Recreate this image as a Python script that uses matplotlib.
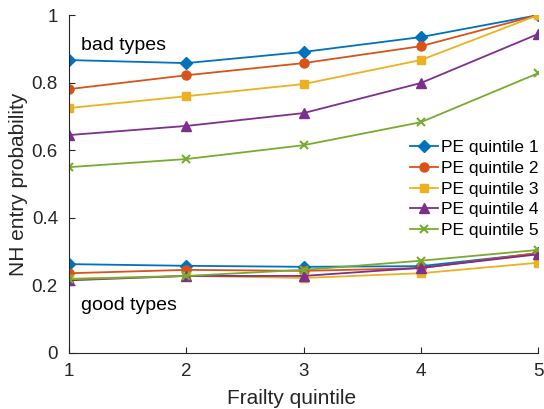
import matplotlib
matplotlib.use("Agg")
from matplotlib import pyplot as plt

plt.rcParams['font.family'] = ['Liberation Sans', 'DejaVu Sans']

frailty = [1, 2, 3, 4, 5]
labels = ['PE quintile 1', 'PE quintile 2', 'PE quintile 3', 'PE quintile 4', 'PE quintile 5']

bad_q1 = [0.867, 0.858, 0.891, 0.935, 1.0]
bad_q2 = [0.781, 0.822, 0.858, 0.908, 1.0]
bad_q3 = [0.725, 0.760, 0.796, 0.867, 1.0]
bad_q4 = [0.645, 0.672, 0.710, 0.799, 0.944]
bad_q5 = [0.550, 0.574, 0.615, 0.683, 0.828]

good_q1 = [0.263, 0.258, 0.255, 0.257, 0.295]
good_q2 = [0.236, 0.246, 0.243, 0.251, 0.296]
good_q3 = [0.220, 0.228, 0.222, 0.236, 0.267]
good_q4 = [0.215, 0.228, 0.228, 0.252, 0.292]
good_q5 = [0.218, 0.228, 0.246, 0.273, 0.305]

cols = ['#0072BD', '#D95319', '#EDB120', '#7E2F8E', '#77AC30']
marks = ['D', 'o', 's', '^', 'x']
msz = [6, 6.5, 5.5, 7, 6]

bad = [bad_q1, bad_q2, bad_q3, bad_q4, bad_q5]
good = [good_q1, good_q2, good_q3, good_q4, good_q5]

fig = plt.figure(figsize=(5.44, 4.09), dpi=100)
ax = fig.add_axes([0.127, 0.137, 0.862, 0.826])

for i in range(5):
    ax.plot(frailty, bad[i], color=cols[i], marker=marks[i], ms=msz[i], lw=1.3,
            mew=1.5 if marks[i] == 'x' else 1, label=labels[i])
for i in range(5):
    ax.plot(frailty, good[i], color=cols[i], marker=marks[i], ms=msz[i], lw=1.3,
            mew=1.5 if marks[i] == 'x' else 1)

ax.set_xlim(1, 5)
ax.set_ylim(0, 1)
ax.set_xticks([1, 2, 3, 4, 5])
ax.set_yticks([0, 0.2, 0.4, 0.6, 0.8, 1])
ax.set_yticklabels(['0', '0.2', '0.4', '0.6', '0.8', '1'])
ax.tick_params(direction='in', labelsize=13.5, length=4, colors='#262626')
ax.tick_params(axis='x', pad=7)
ax.tick_params(axis='y', pad=8)
ax.spines['top'].set_visible(False)
ax.spines['right'].set_visible(False)
for s in ['left', 'bottom']:
    ax.spines[s].set_color('#262626')
ax.set_xlabel('Frailty quintile', fontsize=15, color='#262626', labelpad=7)
ax.xaxis.label.set_x(0.475)
ax.set_ylabel('NH entry probability', fontsize=15, color='#262626', labelpad=3)

ax.text(1.10, 0.896, 'bad types', fontsize=14, va='baseline')
ax.text(1.10, 0.127, 'good types', fontsize=14, va='baseline')

ax.legend(loc='center right', bbox_to_anchor=(1.035, 0.485), frameon=False,
          fontsize=12.5, handlelength=1.6, handletextpad=0.2, labelspacing=0.32)

fig.savefig('out.png', dpi=100)
